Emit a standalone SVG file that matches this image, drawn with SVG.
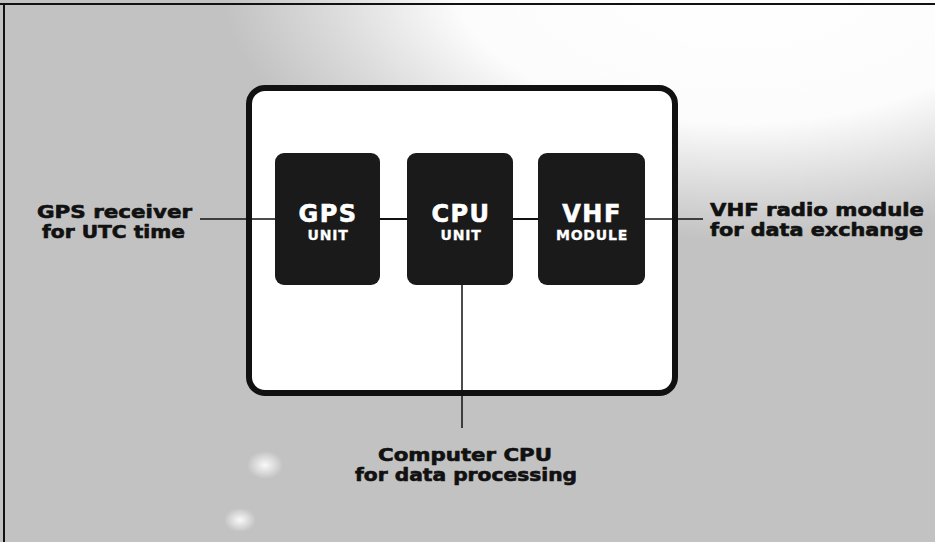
<svg xmlns="http://www.w3.org/2000/svg" width="935" height="542" viewBox="0 0 935 542">
  <defs>
    <radialGradient id="glow" cx="0" cy="0" r="1" gradientUnits="userSpaceOnUse" gradientTransform="translate(740 -20) scale(520 260)">
      <stop offset="0" stop-color="#ffffff" stop-opacity="1"/>
      <stop offset="0.55" stop-color="#ffffff" stop-opacity="0.95"/>
      <stop offset="0.8" stop-color="#ffffff" stop-opacity="0.4"/>
      <stop offset="1" stop-color="#ffffff" stop-opacity="0"/>
    </radialGradient>
    <radialGradient id="spot" cx="0.5" cy="0.5" r="0.5">
      <stop offset="0" stop-color="#ffffff" stop-opacity="0.9"/>
      <stop offset="1" stop-color="#ffffff" stop-opacity="0"/>
    </radialGradient>
    <style>
      .unit { fill: #1a1a1a; }
      .big { font-family: "DejaVu Sans", "Liberation Sans", sans-serif; font-weight: bold; font-size: 24px; fill: #ffffff; stroke: #ffffff; stroke-width: 0.6px; text-anchor: middle; letter-spacing: 1.5px; }
      .small { font-family: "DejaVu Sans", "Liberation Sans", sans-serif; font-weight: bold; font-size: 14px; fill: #ffffff; stroke: #ffffff; stroke-width: 0.3px; text-anchor: middle; letter-spacing: 0.8px; }
      .label { font-family: "DejaVu Sans", "Liberation Sans", sans-serif; font-weight: bold; font-size: 17px; fill: #111111; stroke: #111111; stroke-width: 0.6px; stroke-linejoin: round; }
      .conn { stroke: #111111; stroke-width: 1.5; fill: none; }
      .conn2 { stroke: #111111; stroke-width: 2; fill: none; }
    </style>
  </defs>

  <!-- background -->
  <rect x="0" y="0" width="935" height="542" fill="#c2c2c2"/>
  <rect x="0" y="0" width="935" height="542" fill="url(#glow)"/>
  <ellipse cx="265" cy="465" rx="18" ry="14" fill="url(#spot)"/>
  <ellipse cx="240" cy="520" rx="16" ry="12" fill="url(#spot)"/>
  <!-- frame -->
  <line x1="0" y1="4" x2="935" y2="4" stroke="#111111" stroke-width="2"/>
  <line x1="4" y1="4" x2="4" y2="542" stroke="#111111" stroke-width="2"/>

  <!-- enclosure -->
  <g id="enclosure">
    <rect x="249" y="88" width="426" height="305" rx="16" ry="16" fill="#ffffff" stroke="#111111" stroke-width="6"/>
  </g>

  <!-- connectors -->
  <g id="connectors">
    <line class="conn" x1="200" y1="219" x2="275" y2="219"/>
    <line class="conn2" x1="380" y1="219" x2="407" y2="219"/>
    <line class="conn2" x1="513" y1="219" x2="538" y2="219"/>
    <line class="conn" x1="645" y1="219" x2="703" y2="219"/>
    <line class="conn" x1="462" y1="284" x2="462" y2="428"/>
  </g>

  <!-- units -->
  <g id="gps-unit">
    <rect class="unit" x="275" y="153" width="105" height="132" rx="9" ry="9"/>
    <text class="big" x="328" y="222">GPS</text>
    <text class="small" x="328" y="240">UNIT</text>
  </g>
  <g id="cpu-unit">
    <rect class="unit" x="407" y="153" width="106" height="132" rx="9" ry="9"/>
    <text class="big" x="461" y="222">CPU</text>
    <text class="small" x="461" y="240">UNIT</text>
  </g>
  <g id="vhf-module">
    <rect class="unit" x="538" y="153" width="107" height="132" rx="9" ry="9"/>
    <text class="big" x="592" y="222">VHF</text>
    <text class="small" x="592" y="240">MODULE</text>
  </g>

  <!-- labels -->
  <g id="gps-label">
    <text class="label" x="37" y="218" textLength="155" lengthAdjust="spacingAndGlyphs">GPS receiver</text>
    <text class="label" x="42" y="238" textLength="143" lengthAdjust="spacingAndGlyphs">for UTC time</text>
  </g>
  <g id="vhf-label">
    <text class="label" x="710" y="216" textLength="214" lengthAdjust="spacingAndGlyphs">VHF radio module</text>
    <text class="label" x="710" y="236" textLength="213" lengthAdjust="spacingAndGlyphs">for data exchange</text>
  </g>
  <g id="cpu-label">
    <text class="label" x="378" y="461" textLength="174" lengthAdjust="spacingAndGlyphs">Computer CPU</text>
    <text class="label" x="355" y="481" textLength="222" lengthAdjust="spacingAndGlyphs">for data processing</text>
  </g>
</svg>
